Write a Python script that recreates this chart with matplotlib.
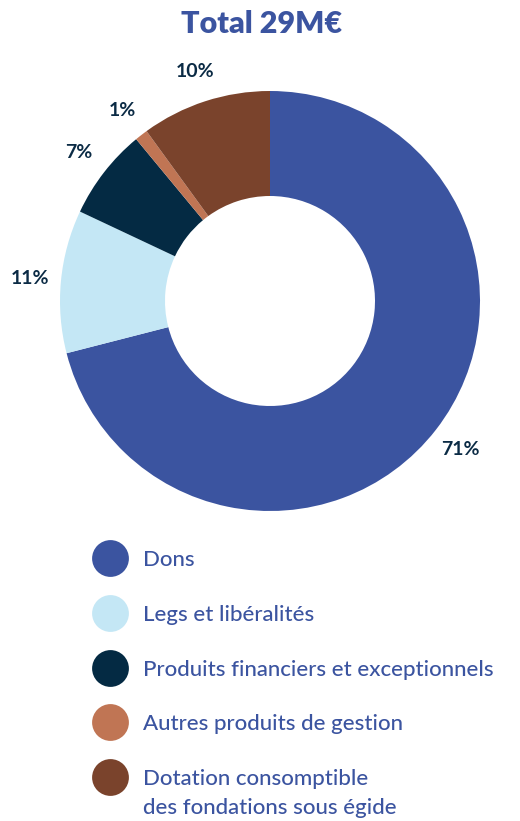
import matplotlib.pyplot as plt
from matplotlib.lines import Line2D

plt.rcParams['font.family'] = ['Lato', 'DejaVu Sans']

# Data
categories = ['Dons', 'Legs et libéralités', 'Produits financiers et exceptionnels',
              'Autres produits de gestion',
              'Dotation consomptible\ndes fondations sous égide']
shares = [71, 11, 7, 1, 10]
pct_labels = ['71%', '11%', '7%', '1%', '10%']
colors = ['#3b54a0', '#c4e7f5', '#042a43', '#c07554', '#7a432c']
title = 'Total 29M€'

W, H = 520, 821
fig = plt.figure(figsize=(W / 100, H / 100), dpi=100)
ax = fig.add_axes([0, 0, 1, 1])

# Donut (pixel coordinates, y from bottom)
cx, cy, R = 270, H - 301, 210
wedges, texts = ax.pie(shares, colors=colors, startangle=90, counterclock=False,
                       center=(cx, cy), radius=R, labels=pct_labels,
                       labeldistance=1.15,
                       wedgeprops=dict(width=R * 0.5, linewidth=0),
                       textprops=dict(color='#0b2b45', fontsize=14,
                                      fontweight='bold'))
for t in texts:
    t.set_ha('center')

ax.set_xlim(0, W)
ax.set_ylim(0, H)
ax.set_aspect('equal')
ax.axis('off')

fig.text(0.503, 1 - 24 / H, title, ha='center', va='center', color='#3b54a0',
         fontsize=22, fontweight='heavy')

# Legend drawn by hand so the two-line entry keeps its dot on the first line
y0, step = H - 558, 54.75
for i, (lab, col) in enumerate(zip(categories, colors)):
    y = y0 - i * step
    ax.add_line(Line2D([110], [y], marker='o', markersize=26.5, color=col,
                       markeredgewidth=0, linestyle='none'))
    first = lab.split('\n')[0]
    ax.text(143, y, first, ha='left', va='center_baseline', color='#3b54a0',
            fontsize=16, fontweight='medium')
    for k, extra in enumerate(lab.split('\n')[1:], start=1):
        ax.text(143, y - 29 * k, extra, ha='left', va='center_baseline',
                color='#3b54a0', fontsize=16, fontweight='medium')

fig.savefig('out.png', dpi=100)
